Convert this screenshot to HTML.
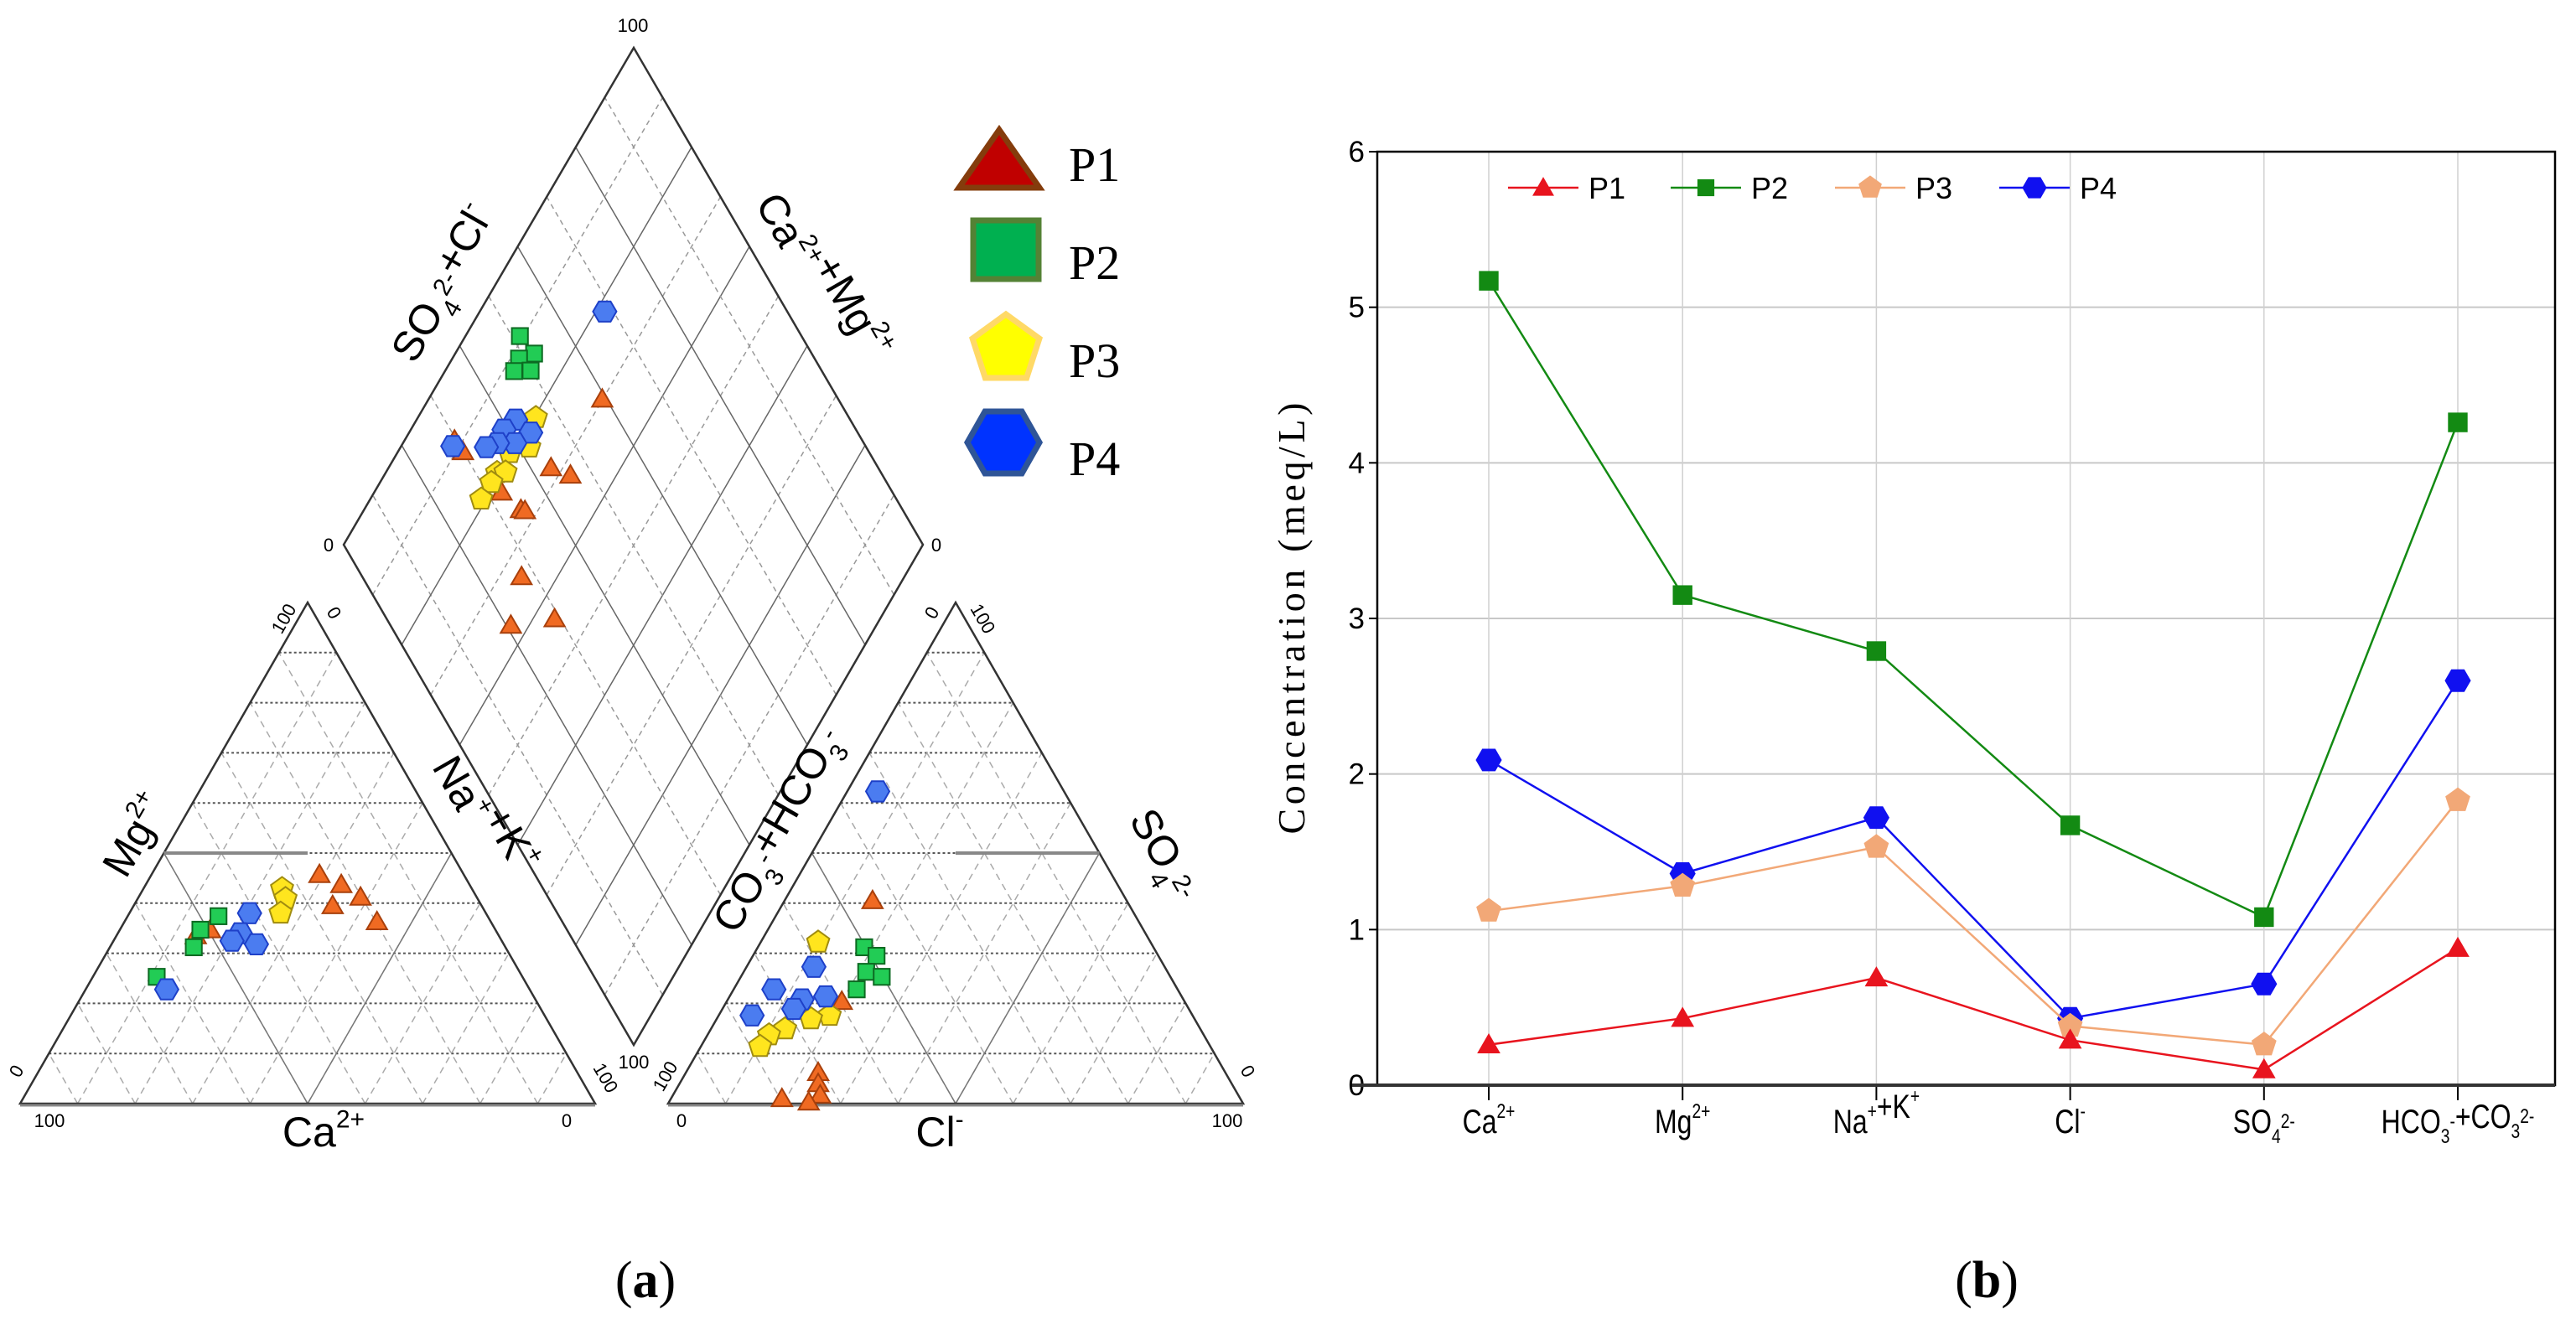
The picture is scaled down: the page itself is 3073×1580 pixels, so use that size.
<!DOCTYPE html>
<html><head><meta charset="utf-8"><style>
html,body{margin:0;padding:0;background:#fff}
svg{display:block}
text{font-family:"Liberation Sans",sans-serif}
.serif{font-family:"Liberation Serif",serif}
</style></head><body>
<svg id="fig" xmlns="http://www.w3.org/2000/svg" width="3073" height="1580" viewBox="0 0 3073 1580">
<g id="piper"></g>
<g id="chart"></g>
<text class="serif" x="770" y="1548" font-size="62" text-anchor="middle">(<tspan font-weight="bold">a</tspan>)</text>
<text class="serif" x="2370" y="1548" font-size="62" text-anchor="middle">(<tspan font-weight="bold">b</tspan>)</text>
</svg>
<script>
// ===== Piper data =====
const catMgP1=[45.7,43.7,41.2,39.5,36.3,34.7,33.5];
const catNaP1=[29.2,34.0,38.6,34.6,43.9,15.7,13.8];
const catMgP2=[37.4,34.7,31.2,25.3];
const catNaP2=[15.8,14.0,14.6,11.1];
const catMgP3=[42.9,40.9,38.0];
const catNaP3=[24.1,25.7,26.3];
const catMgP4=[38.0,34.0,31.8,32.5,22.8];
const catNaP4=[20.9,21.3,25.2,20.6,14.1];
const anSO4P1=[40.5,20.4,6.2,4.0,1.7,1.0,0.3];
const anClP1=[15.3,20.0,23.0,24.1,25.6,19.3,24.3];
const anSO4P2=[31.2,29.5,26.3,25.3,22.8];
const anClP2=[18.5,21.5,21.3,24.5,21.4];
const anSO4P3=[32.2,17.6,16.9,14.9,13.7,11.4];
const anClP3=[10.0,19.3,16.4,12.9,10.7,10.3];
const anSO4P4=[62.3,27.3,22.8,21.4,20.8,18.9,17.6];
const anClP4=[5.3,11.7,7.0,16.7,12.9,12.4,5.8];
const diaSP1=[59.2,29.6,29.9,43.5,46.1,32.5,34.1,34.7,27.5,20.8,29.0];
const diaTP1=[69.9,91.3,88.7,71.9,67.8,78.0,72.9,72.1,66.1,63.1,56.2];
const diaSP2=[51.3,52.0,48.9,46.8,49.7];
const diaTP2=[90.4,86.2,88.3,87.9,85.1];
const diaSP3=[45.9,41.8,37.9,33.7,35.2,31.7,28.3];
const diaTP3=[79.5,77.7,80.5,80.7,79.3,80.7,80.8];
const diaSP4=[68.4,42.2,39.2,43.5,39.7,36.7,34.4,28.7];
const diaTP4=[78.2,82.8,83.8,78.9,80.6,83.6,85.1,91.0];

// ===== Line chart data =====
const categories=["Ca","Mg","NaK","Cl","SO4","HCO3CO3"];
const yTicks=[0,1,2,3,4,5,6];
const p1Values=[0.26,0.43,0.69,0.29,0.10,0.88];
const p2Values=[5.17,3.15,2.79,1.67,1.08,4.26];
const p3Values=[1.12,1.28,1.53,0.38,0.26,1.83];
const p4Values=[2.09,1.36,1.72,0.43,0.65,2.60];
const seriesNames=["P1","P2","P3","P4"];

const NS="http://www.w3.org/2000/svg";
function mk(parent,tag,attrs){const e=document.createElementNS(NS,tag);for(const k in attrs)e.setAttribute(k,attrs[k]);parent.appendChild(e);return e;}

function polyPts(cx,cy,r,n,rot){const p=[];for(let i=0;i<n;i++){const a=rot+i*2*Math.PI/n;p.push((cx+r*Math.cos(a)).toFixed(1)+","+(cy+r*Math.sin(a)).toFixed(1));}return p.join(" ");}
function marker(parent,kind,cx,cy,r,fill,stroke,sw){
  let e;
  if(kind==="tri") e=mk(parent,"polygon",{points:polyPts(cx,cy+r*0.15,r,3,-Math.PI/2)});
  else if(kind==="sq") e=mk(parent,"rect",{x:cx-r*0.8,y:cy-r*0.8,width:r*1.6,height:r*1.6});
  else if(kind==="pent") e=mk(parent,"polygon",{points:polyPts(cx,cy,r,5,-Math.PI/2)});
  else e=mk(parent,"polygon",{points:polyPts(cx,cy,r,6,0)});
  e.setAttribute("fill",fill);e.setAttribute("stroke",stroke);e.setAttribute("stroke-width",sw);
  return e;
}

// ===== Piper =====
const pg=document.getElementById("piper");
const LT={A:[24,1317],B:[710,1317],C:[367,719]};
const RT={A:[797,1317],B:[1483,1317],C:[1140,719]};
const DB=[756,1247],DR=[1101,650],DL=[410,650],DT=[756,57];
function lerp(p,q,f){return [p[0]+(q[0]-p[0])*f,p[1]+(q[1]-p[1])*f];}
function line(parent,p,q,stroke,sw,dash,name){const l=mk(parent,"line",{x1:p[0],y1:p[1],x2:q[0],y2:q[1],stroke:stroke,"stroke-width":sw});if(dash)l.setAttribute("stroke-dasharray",dash);
  
  
  return l;}

function triGrid(T,name){
  const g=mk(pg,"g",{});
  
  
  for(let i=1;i<10;i++){
    const f=i/10;
    line(g,lerp(T.A,T.C,f),lerp(T.B,T.C,f),"#555",2,"3,3","grid-horizontal");
    line(g,lerp(T.A,T.B,f),lerp(T.B,T.C,1-f),"#aaa",1.5,"8,6","grid-slant");
    line(g,lerp(T.A,T.B,f),lerp(T.A,T.C,f),"#aaa",1.5,"8,6","grid-slant");
  }
  const mAB=lerp(T.A,T.B,.5),mAC=lerp(T.A,T.C,.5),mBC=lerp(T.B,T.C,.5);
  line(g,mAB,mAC,"#777",1.5,null,"class-line");
  line(g,mAB,mBC,"#777",1.5,null,"class-line");
  const tri=mk(g,"polygon",{points:[T.A,T.B,T.C].map(p=>p.join(",")).join(" "),fill:"none",stroke:"#333","stroke-width":2.5});
  
  
  mk(g,"line",{x1:T.A[0],y1:T.A[1]+2,x2:T.B[0],y2:T.B[1]+2,stroke:"#888","stroke-width":3});
  return g;
}
const lg=triGrid(LT,"cation-triangle");
line(lg,lerp(LT.A,LT.C,.5),[LT.C[0],lerp(LT.A,LT.C,.5)[1]],"#888",4,null,"class-line-thick");
const rg=triGrid(RT,"anion-triangle");
line(rg,[RT.C[0],lerp(RT.B,RT.C,.5)[1]],lerp(RT.B,RT.C,.5),"#888",4,null,"class-line-thick");

const dg=mk(pg,"g",{});


for(let k=1;k<10;k++){
  const f=k/10, solid=k%2===0;
  line(dg,lerp(DB,DL,f),lerp(DR,DT,f),solid?"#666":"#999",1.5,solid?null:"6,5","grid-diamond");
  line(dg,lerp(DB,DR,f),lerp(DL,DT,f),solid?"#666":"#999",1.5,solid?null:"6,5","grid-diamond");
}
const dOut=mk(dg,"polygon",{points:[DB,DR,DT,DL].map(p=>p.join(",")).join(" "),fill:"none",stroke:"#333","stroke-width":2.5});



function catXY(mg,na){const W=LT.B[0]-LT.A[0],H=LT.A[1]-LT.C[1];return [LT.A[0]+(na/100+mg/200)*W,LT.A[1]-mg/100*H];}
function anXY(so4,cl){const W=RT.B[0]-RT.A[0],H=RT.A[1]-RT.C[1];return [RT.A[0]+(cl/100+so4/200)*W,RT.A[1]-so4/100*H];}
function diaXY(s,t){s/=100;t/=100;return [DB[0]+s*(DR[0]-DB[0])+t*(DL[0]-DB[0]),DB[1]+s*(DR[1]-DB[1])+t*(DL[1]-DB[1])];}

const pStyle=[
 {k:"tri",fill:"#f06a22",stroke:"#a8400c",r:14},
 {k:"sq",fill:"#22cc55",stroke:"#0d6a22",r:12},
 {k:"pent",fill:"#ffe51e",stroke:"#a08c10",r:14},
 {k:"hex",fill:"#4b7cf0",stroke:"#1e40c8",r:14}
];
const catSets=[[catMgP1,catNaP1],[catMgP2,catNaP2],[catMgP3,catNaP3],[catMgP4,catNaP4]];
const anSets=[[anSO4P1,anClP1],[anSO4P2,anClP2],[anSO4P3,anClP3],[anSO4P4,anClP4]];
const diaSets=[[diaSP1,diaTP1],[diaSP2,diaTP2],[diaSP3,diaTP3],[diaSP4,diaTP4]];
for(let s=0;s<4;s++){
  const st=pStyle[s];
  const g=mk(pg,"g",{});
  
  
  catSets[s][0].forEach((v,i)=>{const p=catXY(v,catSets[s][1][i]);const m=marker(g,st.k,p[0],p[1],st.r,st.fill,st.stroke,2);
    
    });
  anSets[s][0].forEach((v,i)=>{const p=anXY(v,anSets[s][1][i]);const m=marker(g,st.k,p[0],p[1],st.r,st.fill,st.stroke,2);
    
    });
  diaSets[s][0].forEach((v,i)=>{const p=diaXY(v,diaSets[s][1][i]);const m=marker(g,st.k,p[0],p[1],st.r,st.fill,st.stroke,2);
    
    });
}

function txt(parent,x,y,html,size,rot,anchor,name,cls){
  const t=mk(parent,"text",{x:x,y:y,"font-size":size,"text-anchor":anchor||"middle"});
  if(rot)t.setAttribute("transform","rotate("+rot+" "+x+" "+y+")");
  if(cls)t.setAttribute("class",cls);
  t.innerHTML=html;
  
  
  return t;
}
const sup=(s,f)=>'<tspan dy="-'+(f*0.45)+'" font-size="'+(f*0.6)+'">'+s+'</tspan><tspan dy="'+(f*0.45)+'"></tspan>';
const sub=(s,f)=>'<tspan dy="'+(f*0.3)+'" font-size="'+(f*0.6)+'">'+s+'</tspan><tspan dy="-'+(f*0.3)+'"></tspan>';
const F=50;
txt(pg,755,38,"100",22,0,"middle","diamond-top-tick");
txt(pg,392,658,"0",22,0,"middle","diamond-left-tick");
txt(pg,1117,658,"0",22,0,"middle","diamond-right-tick");
txt(pg,756,1275,"100",22,0,"middle","diamond-bottom-tick");
txt(pg,545,348,"SO"+sub("4",F)+sup("2-",F)+"+Cl"+sup("-",F),F,-60,"middle","so4-cl-axis-title");
txt(pg,958,343,"Ca"+sup("2+",F)+"+Mg"+sup("2+",F),F,60,"middle","ca-mg-axis-title");
txt(pg,176,1005,"Mg"+sup("2+",F),F,-60,"middle","mg-axis-title");
txt(pg,555,985,"Na"+sup("+",F)+"+K"+sup("+",F),F,60,"middle","na-k-axis-title");
txt(pg,386,1368,"Ca"+sup("2+",F),F,0,"middle","ca-axis-title");
txt(pg,59,1345,"100",22,0,"middle","ca-tick-100");
txt(pg,676,1345,"0",22,0,"middle","ca-tick-0");
txt(pg,26,1282,"0",22,-60,"middle","mg-tick-0");
txt(pg,716,1290,"100",22,60,"middle","na-tick-100");
txt(pg,345,742,"100",22,-60,"middle","mg-tick-100");
txt(pg,392,735,"0",22,60,"middle","na-tick-0");
txt(pg,945,1000,"CO"+sub("3",F)+sup("-",F)+"+HCO"+sub("3",F)+sup("-",F),F,-60,"middle","co3-hco3-axis-title");
txt(pg,1375,1028,"SO"+sub("4",F)+sup("2-",F),F,60,"middle","so4-axis-title");
txt(pg,1121,1368,"Cl"+sup("-",F),F,0,"middle","cl-axis-title");
txt(pg,813,1345,"0",22,0,"middle","cl-tick-0");
txt(pg,1464,1345,"100",22,0,"middle","cl-tick-100");
txt(pg,800,1288,"100",22,-60,"middle","co3-tick-100");
txt(pg,1482,1282,"0",22,60,"middle","so4-tick-0");
txt(pg,1118,735,"0",22,-60,"middle","co3-tick-0");
txt(pg,1166,742,"100",22,60,"middle","so4-tick-100");

const legG=mk(pg,"g",{});


const lt=mk(legG,"polygon",{points:"1192,155 1144,224 1240,224",fill:"#c00000",stroke:"#843c0c","stroke-width":7});


const ls=mk(legG,"rect",{x:1161,y:263,width:78,height:70,fill:"#00b050",stroke:"#548235","stroke-width":7});


const lp=marker(legG,"pent",1200,417,42,"#ffff00","#ffd966",7);


const lh=mk(legG,"polygon",{points:"1154,528 1175,491 1219,491 1240,528 1219,565 1175,565",fill:"#0033ff",stroke:"#2f5597","stroke-width":7});


["P1","P2","P3","P4"].forEach((s,i)=>{txt(legG,1275,[216,333,450,567][i],s,58,0,"start","legend-label-"+s.toLowerCase(),"serif");});

// ===== Line chart =====
const cg=document.getElementById("chart");
const X0=1643,X1=3048,Y0=1295,Y1=181;
const catX=[1776,2007,2238,2470,2701,2932];
function xPos(i){return catX[0]+i*(catX[5]-catX[0])/(categories.length-1);}
function yPos(v){return Y0-(v-yTicks[0])/(yTicks[yTicks.length-1]-yTicks[0])*(Y0-Y1);}
yTicks.forEach(v=>{
  if(v>0){line(cg,[X0,yPos(v)],[X1,yPos(v)],"#c8c8c8",2,null,"y-gridline");}
  txt(cg,1628,yPos(v)+12,String(v),35,0,"end","y-tick-label");
  line(cg,[X0-10,yPos(v)],[X0,yPos(v)],"#000",2,null,"y-tick");
});
categories.forEach((c,i)=>{
  line(cg,[xPos(i),Y1],[xPos(i),Y0],"#d0d0d0",1.5,null,"x-gridline");
  line(cg,[xPos(i),Y0],[xPos(i),Y0+18],"#000",2,null,"x-tick");
});
const frame=mk(cg,"rect",{x:X0,y:Y1,width:X1-X0,height:Y0-Y1,fill:"none",stroke:"#000","stroke-width":2.5});


line(cg,[X0-30,Y0],[X1,Y0],"#333",4,null,"x-axis");
const XF=40;
const xLabelHTML=["Ca"+sup("2+",XF),"Mg"+sup("2+",XF),"Na"+sup("+",XF)+"+K"+sup("+",XF),"Cl"+sup("-",XF),"SO"+sub("4",XF)+sup("2-",XF),"HCO"+sub("3",XF)+sup("-",XF)+"+CO"+sub("3",XF)+sup("2-",XF)];
categories.forEach((c,i)=>{const t=txt(cg,xPos(i),1352,xLabelHTML[i],XF,0,"middle","x-tick-label");t.setAttribute("transform","translate("+xPos(i)+",0) scale(0.8,1) translate("+(-xPos(i))+",0)");});
txt(cg,1556,738,"Concentration (meq/L)",46,-90,"middle","y-axis-title","serif").setAttribute("textLength","515");

const sCol=["#e8141e","#138a13","#f2a877","#1010f0"];
const sKind=["tri","sq","pent","hex"];
const sVals=[p1Values,p2Values,p3Values,p4Values];
[1,3,2,0].forEach(s=>{
  const g=mk(cg,"g",{});
  
  
  const pts=sVals[s].map((v,i)=>xPos(i).toFixed(1)+","+yPos(v).toFixed(1)).join(" ");
  const pl=mk(g,"polyline",{points:pts,fill:"none",stroke:sCol[s],"stroke-width":2.5});
  
  
  sVals[s].forEach((v,i)=>{const m=marker(g,sKind[s],xPos(i),yPos(v),s===1?14:15,sCol[s],sCol[s],1);
    
    });
});
const lgx=[1799,1993,2189,2385];
seriesNames.forEach((n,s)=>{
  const g=mk(cg,"g",{});
  
  
  line(g,[lgx[s],224],[lgx[s]+84,224],sCol[s],2.5,null,"legend-line");
  marker(g,sKind[s],lgx[s]+42,224,s===1?12:14,sCol[s],sCol[s],1);
  txt(g,lgx[s]+96,237,n,36,0,"start","legend-label");
});
</script>
</body></html>
